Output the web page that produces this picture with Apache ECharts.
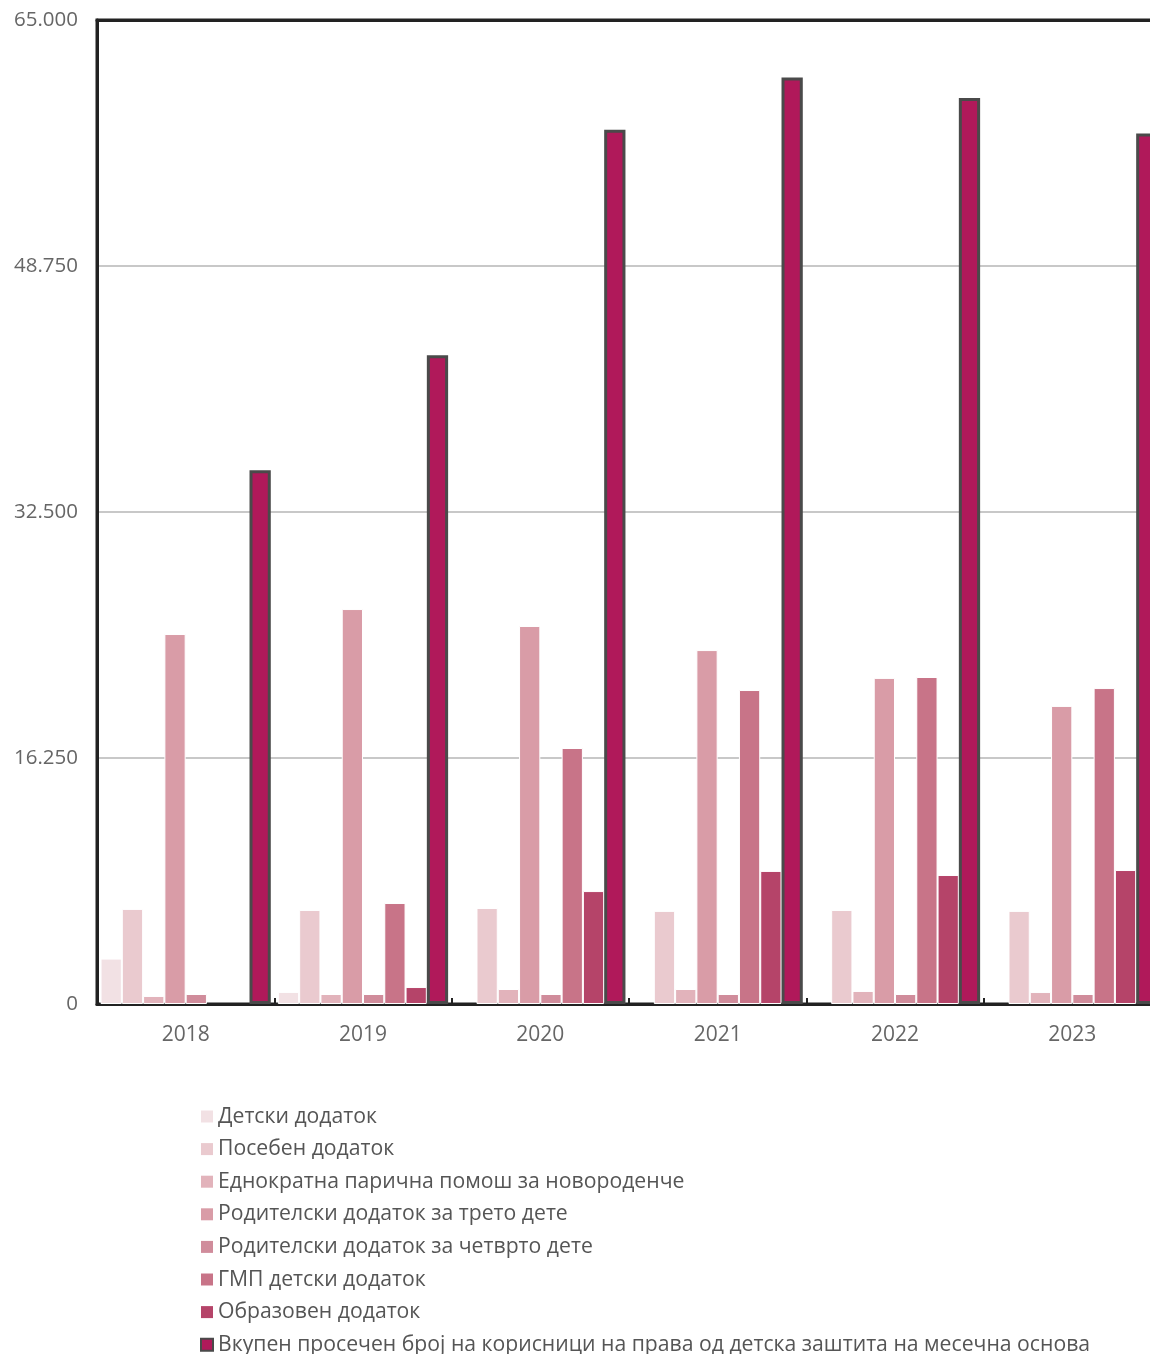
<!DOCTYPE html>
<html>
<head>
<meta charset="utf-8">
<script src="https://cdn.jsdelivr.net/npm/echarts@6/dist/echarts.min.js"></script>
<style>
html,body{margin:0;padding:0;background:#fff;overflow:hidden;}
#chart{width:1150px;height:1354px;}
</style>
</head>
<body>
<div id="chart"></div>
<script>
const years = ['2018','2019','2020','2021','2022','2023'];
const seriesNames = [
  'Детски додаток',
  'Посебен додаток',
  'Еднократна парична помош за новороденче',
  'Родителски додаток за трето дете',
  'Родителски додаток за четврто дете',
  'ГМП детски додаток',
  'Образовен додаток',
  'Вкупен просечен број на корисници на права од детска заштита на месечна основа'
];
const detski      = [3000, 790, 0, 0, 0, 0];
const poseben     = [6280, 6210, 6340, 6150, 6210, 6150];
const ednokratna  = [530, 660, 990, 990, 860, 790];
const treto       = [24440, 26090, 24970, 23380, 21540, 19690];
const chetvrto    = [660, 660, 660, 660, 660, 660];
const gmp         = [0, 6670, 16910, 20740, 21600, 20870];
const obrazoven   = [0, 1120, 7460, 8790, 8520, 8850];
const vkupen      = [35250, 42850, 57750, 61200, 59850, 57500];
const yTicks = [0, 16250, 32500, 48750, 65000];

const colors = ['#f2e1e4','#eacacf','#e2b3bb','#d99ca7','#d08c9b','#c87488','#b54469','#b0195a'];
const values = [detski, poseben, ednokratna, treto, chetvrto, gmp, obrazoven, vkupen];

const fmt = v => v === 0 ? '0' : v.toLocaleString('de-DE');

const series = values.map((arr, i) => {
  const last = i === values.length - 1;
  return {
    name: seriesNames[i],
    type: 'bar',
    data: arr.map(v => v === 0 ? '-' : v),
    barGap: '0%',
    barCategoryGap: '4%',
    itemStyle: {
      color: colors[i],
      borderColor: last ? '#4a4a4a' : '#ffffff',
      borderWidth: last ? 3 : 1
    }
  };
});

const chart = echarts.init(document.getElementById('chart'));
chart.setOption({
  animation: false,
  color: colors,
  textStyle: { fontFamily: 'Open Sans' },
  grid: {
    left: 97, top: 20, width: 1064, height: 984,
    outerBoundsMode: 'none', containLabel: false,
    show: true, borderColor: '#222', borderWidth: 3, backgroundColor: 'transparent'
  },
  legend: {
    orient: 'vertical',
    left: 200, top: 1106, height: 400,
    padding: 0,
    itemWidth: 12, itemHeight: 12, itemGap: 11.6,
    icon: 'rect',
    textStyle: { fontSize: 21.2, lineHeight: 20, color: '#555', fontFamily: 'Open Sans' },
    data: seriesNames.map((n, i) => ({
      name: n,
      itemStyle: i === 7 ? { color: colors[7], borderColor: '#4a4a4a', borderWidth: 2 } : { color: colors[i], borderWidth: 0 }
    }))
  },
  xAxis: [{
    type: 'category',
    data: years,
    axisLine: { lineStyle: { color: '#222', width: 3 } },
    axisTick: { show: true, inside: true, length: 6, lineStyle: { color: '#222', width: 2 } },
    axisLabel: { color: '#666', fontSize: 21, margin: 21, fontFamily: 'Open Sans' }
  }, {
    type: 'category',
    position: 'top',
    data: years,
    axisLine: { show: true, lineStyle: { color: '#222', width: 3 } },
    axisTick: { show: false },
    axisLabel: { show: false },
    splitLine: { show: false }
  }],
  yAxis: {
    type: 'value',
    min: 0, max: 65000, interval: 16250,
    axisLine: { show: true, lineStyle: { color: '#222', width: 3 } },
    axisTick: { show: false },
    splitLine: { lineStyle: { color: '#c8c8c8', width: 2 } },
    axisLabel: { color: '#666', fontSize: 20.5, margin: 19, fontFamily: 'Open Sans', formatter: fmt }
  },
  series: series
});
</script>
</body>
</html>
